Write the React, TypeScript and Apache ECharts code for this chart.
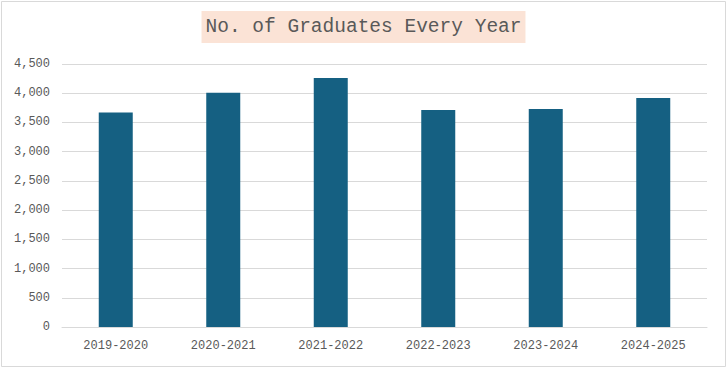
import React, { useEffect, useRef } from "react";
import * as echarts from "echarts";

const categories = ["2019-2020", "2020-2021", "2021-2022", "2022-2023", "2023-2024", "2024-2025"];
const graduates = [3670, 4010, 4260, 3713, 3730, 3920];
const titleText = "No. of Graduates Every Year";

export default function App() {
  const ref = useRef<HTMLDivElement>(null);
  useEffect(() => {
    document.body.style.margin = "0";
    const chart = echarts.init(ref.current!, null, { renderer: "svg" });
    const font = "'Liberation Mono', 'DejaVu Sans Mono', monospace";
    chart.setOption({
      animation: false,
      backgroundColor: "#ffffff",
      title: {
        text: titleText,
        left: "center",
        top: 11,
        backgroundColor: "#FBE3D6",
        padding: [6, 4, 6, 4],
        textStyle: { fontFamily: font, fontSize: 19.5, fontWeight: "normal", color: "#595959", lineHeight: 20 },
      },
      grid: { left: 62, right: 20, top: 64, bottom: 41, containLabel: false },
      xAxis: {
        type: "category",
        data: categories,
        axisLine: { show: true, lineStyle: { color: "#d9d9d9", width: 1 } },
        axisTick: { show: false },
        axisLabel: { fontFamily: font, fontSize: 12, color: "#595959", margin: 13 },
      },
      yAxis: {
        type: "value",
        min: 0,
        max: 4500,
        interval: 500,
        axisLine: { show: false },
        axisTick: { show: false },
        splitLine: { lineStyle: { color: "#d9d9d9", width: 1 } },
        axisLabel: {
          fontFamily: font,
          fontSize: 12,
          color: "#595959",
          margin: 12,
          formatter: (v: number) => v.toLocaleString("en-US"),
        },
      },
      series: [
        {
          type: "bar",
          data: graduates,
          barWidth: 34,
          itemStyle: { color: "#156082" },
        },
      ],
      graphic: [
        {
          type: "rect",
          shape: { x: 1.5, y: 1.5, width: 724, height: 365 },
          style: { fill: "none", stroke: "#d9d9d9", lineWidth: 1 },
          silent: true,
        },
      ],
    });
    return () => chart.dispose();
  }, []);
  return <div ref={ref} style={{ width: 727, height: 368 }} />;
}
